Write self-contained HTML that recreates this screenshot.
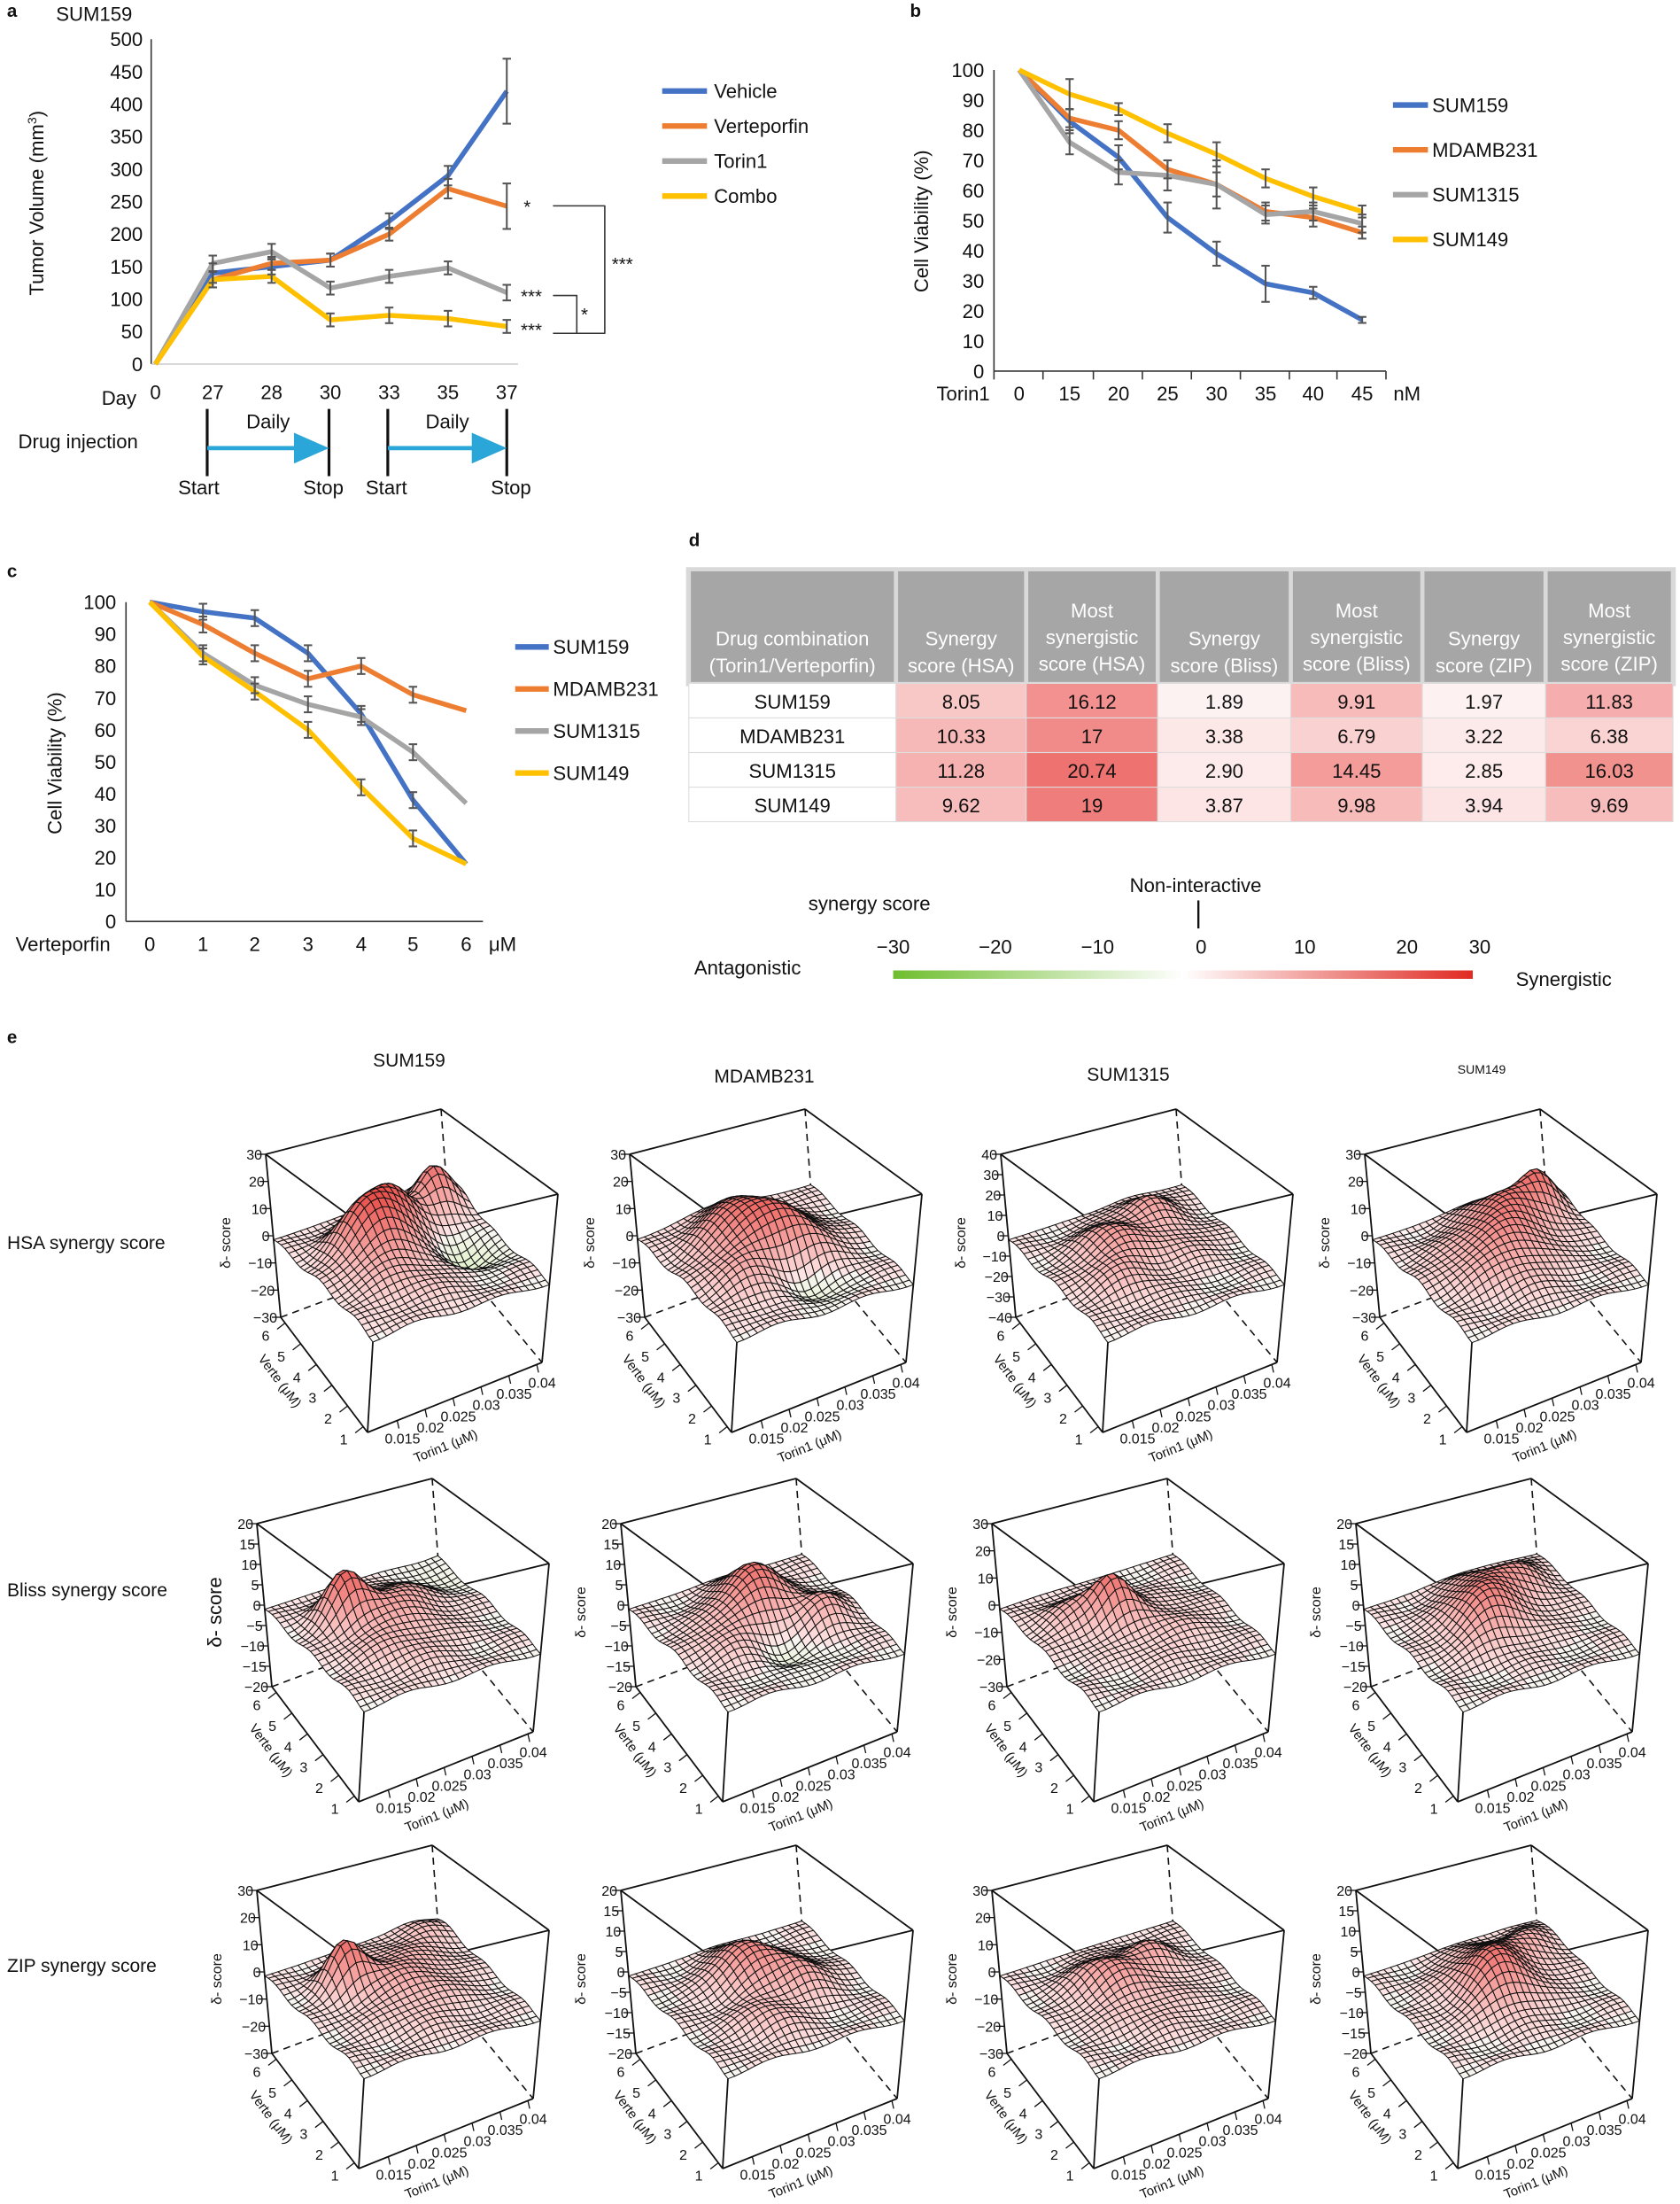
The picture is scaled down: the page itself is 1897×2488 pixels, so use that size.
<!DOCTYPE html>
<html><head><meta charset="utf-8">
<style>
html,body{margin:0;padding:0;background:#fff}
svg{display:block}
text{font-family:"Liberation Sans",sans-serif;fill:#111}
</style></head>
<body>
<svg id="s" xmlns="http://www.w3.org/2000/svg" width="1897" height="2488" viewBox="0 0 1897 2488">
<rect width="1897" height="2488" fill="#fff"/>
<g id="top" transform="scale(1.5808)"></g>
<g id="e3d"></g>
</svg>
<script>
var T=document.getElementById('top'),E=document.getElementById('e3d');
var h='';
function tx(x,y,s,fs,anchor,extra){return '<text x="'+x+'" y="'+y+'" font-size="'+(fs||14)+'"'+(anchor?' text-anchor="'+anchor+'"':'')+(extra||'')+'>'+s+'</text>';}
function line(x1,y1,x2,y2,c,w,extra){return '<line x1="'+x1+'" y1="'+y1+'" x2="'+x2+'" y2="'+y2+'" stroke="'+c+'" stroke-width="'+w+'"'+(extra||'')+'/>';}
function poly(pts,c,w){return '<polyline fill="none" stroke="'+c+'" stroke-width="'+w+'" stroke-linejoin="round" points="'+pts.map(function(p){return p[0]+','+p[1]}).join(' ')+'"/>';}
function eb(x,y,d){return line(x,y-d,x,y+d,'#555',1.3)+line(x-3,y-d,x+3,y-d,'#555',1.3)+line(x-3,y+d,x+3,y+d,'#555',1.3);}
var COL=['#4472c4','#ed7d31','#a5a5a5','#ffc000'];
// ---- panel a
h+=tx(5,12,'a',13,null,' font-weight="bold"')+tx(40,15,'SUM159',14);
h+=line(108,28,108,260,'#333',1)+line(108,260,370,260,'#ccc',1);
for(var i=0;i<=10;i++){var y=260-i*23.2;h+=tx(102,y+5,i*50,14,'end');}
var xa=[111,152,194,236,278,320,362],dl=[0,27,28,30,33,35,37];
h+=tx(85,289,'Day',14,'middle');
xa.forEach(function(x,i){h+=tx(x,285,dl[i],14,'middle')});
h+='<text transform="translate(31,145) rotate(-90)" font-size="14" text-anchor="middle">Tumor Volume (mm<tspan font-size="9" dy="-5">3</tspan><tspan dy="5">)</tspan></text>';
var da=[[0,140,150,160,220,290,420],[0,130,155,160,200,270,243],[0,155,173,117,135,148,110],[0,130,135,68,75,70,58]];
var ea=[[0,15,12,10,12,15,50],[0,12,10,10,10,15,35],[0,12,12,10,10,10,12],[0,12,10,10,12,12,10]];
da.forEach(function(s,k){h+=poly(s.map(function(v,i){return [xa[i],260-v*0.464]}),COL[k],3.5);});
da.forEach(function(s,k){s.forEach(function(v,i){if(i)h+=eb(xa[i],260-v*0.464,ea[k][i]*0.464)})});
['Vehicle','Verteporfin','Torin1','Combo'].forEach(function(n,k){var y=65+k*25;h+=line(473,y,505,y,COL[k],4)+tx(510,y+5,n,14);});
h+=tx(374,152,'*',13)+poly([[395,147],[432,147],[432,238],[412,238]],'#333',1);
h+=tx(437,193,'***',13)+tx(372,216,'***',13)+tx(372,240,'***',13);
h+=poly([[395,211],[412,211],[412,238],[395,238]],'#333',1)+tx(415,229,'*',13);
h+=tx(13,320,'Drug injection',14);
function inj(x1,x2){var s='';s+=line(x1,292,x1,340,'#111',2)+line(x2,292,x2,340,'#111',2);
 s+=line(x1,320,x2-24,320,'#2aa6d8',3)+'<polygon points="'+(x2-25)+',309 '+x2+',320 '+(x2-25)+',331" fill="#2aa6d8"/>';
 s+=tx((x1+x2)/2,306,'Daily',14,'middle');return s;}
h+=inj(148,235)+inj(277,362);
h+=tx(142,353,'Start',14,'middle')+tx(231,353,'Stop',14,'middle')+tx(276,353,'Start',14,'middle')+tx(365,353,'Stop',14,'middle');
// ---- panel b
h+=tx(650,12,'b',13,null,' font-weight="bold"');
h+=line(710,50,710,265,'#333',1)+line(710,265,990,265,'#333',1);
for(var i=0;i<=10;i++){var y=265-i*21.5;h+=tx(703,y+5,i*10,14,'end');}
var xb=[728,764,799,834,869,904,938,973],nb=[0,15,20,25,30,35,40,45];
xb.forEach(function(x,i){h+=tx(x,286,nb[i],14,'middle');h+=line(x+17,265,x+17,271,'#333',1)});
h+=line(710,265,710,271,'#333',1)+tx(688,286,'Torin1',14,'middle')+tx(1005,286,'nM',14,'middle');
h+='<text transform="translate(663,158) rotate(-90)" font-size="14" text-anchor="middle">Cell Viability (%)</text>';
var db=[[100,83,71,51,39,29,26,17],[100,84,80,67,62,53,51,46],[100,76,66,65,62,52,53,49],[100,92,87,79,72,64,58,53]];
var eB=[[0,4,4,5,4,6,2,1],[0,3,3,3,4,3,3,2],[0,4,4,5,8,3,3,3],[0,5,2,3,4,3,3,2]];
db.forEach(function(s,k){h+=poly(s.map(function(v,i){return [xb[i],265-v*2.15]}),COL[k],3.5);});
db.forEach(function(s,k){s.forEach(function(v,i){if(i)h+=eb(xb[i],265-v*2.15,eB[k][i]*2.15)})});
['SUM159','MDAMB231','SUM1315','SUM149'].forEach(function(n,k){var y=75+k*32;h+=line(995,y,1020,y,COL[k],4)+tx(1023,y+5,n,14);});
// ---- panel c
h+=tx(5,412,'c',13,null,' font-weight="bold"');
h+=line(90,430,90,658,'#333',1)+line(90,658,345,658,'#333',1);
for(var i=0;i<=10;i++){var y=658-i*22.8;h+=tx(83,y+5,i*10,14,'end');}
var xc=[107,145,182,220,258,295,333];
xc.forEach(function(x,i){h+=tx(x,679,i,14,'middle');});
h+=tx(45,679,'Verteporfin',14,'middle')+tx(359,679,'μM',14,'middle');
h+='<text transform="translate(44,545) rotate(-90)" font-size="14" text-anchor="middle">Cell Viability (%)</text>';
var dc=[[100,97,95,84,65,38,18],[100,93,84,76,80,71,66],[100,84,74,68,64,53,37],[100,83,72,60,42,26,18]];
dc.forEach(function(s,k){h+=poly(s.map(function(v,i){return [xc[i],658-v*2.28]}),COL[k],3.5);});
dc.forEach(function(s,k){s.forEach(function(v,i){if(i&&i<6)h+=eb(xc[i],658-v*2.28,2.5*2.28)})});
['SUM159','MDAMB231','SUM1315','SUM149'].forEach(function(n,k){var y=462+k*30;h+=line(368,y,392,y,COL[k],4)+tx(395,y+5,n,14);});
// ---- panel d
h+=tx(492,390,'d',13,null,' font-weight="bold"');
var cx=[492,640,733,827,922,1016,1104,1195];
h+='<rect x="490" y="405" width="707" height="85" fill="#d9d9d9"/>';
var hd=[['Drug combination','(Torin1/Verteporfin)'],['Synergy','score (HSA)'],['Most','synergistic','score (HSA)'],['Synergy','score (Bliss)'],['Most','synergistic','score (Bliss)'],['Synergy','score (ZIP)'],['Most','synergistic','score (ZIP)']];
for(var c=0;c<7;c++){h+='<rect x="'+(cx[c]+1.5)+'" y="408" width="'+(cx[c+1]-cx[c]-3)+'" height="79" fill="#a6a6a6"/>';
 var L=hd[c],y0=L.length==2?461:441;L.forEach(function(t,j){h+='<text x="'+(cx[c]+cx[c+1])/2+'" y="'+(y0+j*19)+'" font-size="14" text-anchor="middle" style="fill:#fff">'+t+'</text>';});}
var rows=[['SUM159','8.05','16.12','1.89','9.91','1.97','11.83'],['MDAMB231','10.33','17','3.38','6.79','3.22','6.38'],['SUM1315','11.28','20.74','2.90','14.45','2.85','16.03'],['SUM149','9.62','19','3.87','9.98','3.94','9.69']];
function red(v){var t=Math.min(1,v/28);return 'rgb('+Math.round(255-(255-232)*t)+','+Math.round(255-(255-64)*t)+','+Math.round(255-(255-60)*t)+')';}
rows.forEach(function(r,i){var y=488+i*24.7;for(var c=0;c<7;c++){var f=c?red(parseFloat(r[c])):'#fff';
 h+='<rect x="'+cx[c]+'" y="'+y+'" width="'+(cx[c+1]-cx[c])+'" height="24.7" fill="'+f+'" stroke="#ddd" stroke-width="0.7"/>';
 h+=tx((cx[c]+cx[c+1])/2,y+18,r[c],14,'middle');}});
h+='<defs><linearGradient id="cb"><stop offset="0" stop-color="#6fbe2e"/><stop offset="0.5" stop-color="#fff"/><stop offset="1" stop-color="#e02a22"/></linearGradient></defs>';
h+='<rect x="638" y="693" width="414" height="6" fill="url(#cb)"/>';
[['−30',638],['−20',711],['−10',784],['0',858],['10',932],['20',1005],['30',1057]].forEach(function(a){h+=tx(a[1],681,a[0],14,'middle')});
h+=tx(621,650,'synergy score',14,'middle')+tx(854,637,'Non-interactive',14,'middle')+line(856,643,856,663,'#111',1.5);
h+=tx(534,696,'Antagonistic',14,'middle')+tx(1117,704,'Synergistic',14,'middle');
h+=tx(5,745,'e',13,null,' font-weight="bold"');
T.innerHTML=h;

// ---- panel e
var g='';
g+=tx(462,1204,'SUM159',21,'middle')+tx(863,1222,'MDAMB231',21,'middle')+tx(1274,1220,'SUM1315',21,'middle')+tx(1673,1212,'SUM149',14,'middle');
g+=tx(8,1410,'HSA synergy score',21)+tx(8,1802,'Bliss synergy score',21)+tx(8,2226,'ZIP synergy score',21);
var A=[300,1303],B=[498,1252],C=[630,1348],D=[428,1397],A2=[317,1487],B2=[510,1415],C2=[612,1538],D2=[415,1617];
function bil(P,Q,R,S,u,v){return [P[0]*(1-u)*(1-v)+S[0]*u*(1-v)+Q[0]*(1-u)*v+R[0]*u*v, P[1]*(1-u)*(1-v)+S[1]*u*(1-v)+Q[1]*(1-u)*v+R[1]*u*v];}
var zt=[[30,10],[30,10],[40,10],[30,10],[20,5],[20,5],[30,10],[20,5],[30,10],[20,5],[30,10],[20,5]];
var bumps=[
 [[.35,.35,.55,.13],[.25,.55,.5,.11],[.15,.85,.55,.09],[.55,.8,-.25,.1],[.6,.35,.2,.2]],
 [[.3,.45,.55,.18],[.5,.65,.3,.13],[.75,.55,-.2,.1],[.6,.25,.2,.15]],
 [[.35,.4,.3,.13],[.2,.7,.3,.11],[.6,.3,.2,.15],[.5,.7,.15,.12]],
 [[.3,.6,.5,.16],[.2,.85,.45,.09],[.6,.45,.25,.15],[.45,.25,.15,.15]],
 [[.3,.3,.55,.1],[.35,.6,.25,.13],[.15,.9,-.1,.1],[.6,.4,.2,.18]],
 [[.3,.55,.55,.13],[.55,.8,.3,.1],[.7,.5,-.15,.1],[.5,.3,.2,.15]],
 [[.35,.45,.45,.09],[.3,.25,.2,.13],[.55,.6,.15,.18]],
 [[.3,.55,.4,.16],[.5,.4,.3,.13],[.2,.8,.2,.1]],
 [[.3,.3,.5,.09],[.35,.6,.2,.18],[.1,.85,.15,.1],[.6,.5,.15,.18]],
 [[.3,.5,.45,.13],[.5,.7,.3,.11],[.7,.4,.2,.13]],
 [[.35,.4,.3,.13],[.3,.7,.25,.11],[.6,.5,.15,.18]],
 [[.35,.55,.4,.16],[.55,.45,.3,.13],[.2,.85,.2,.1]]];
function zf(b,u,v){var z=-0.05;b.forEach(function(q){var du=u-q[0],dv=v-q[1];z+=q[2]*Math.exp(-(du*du+dv*dv)/(2*q[3]*q[3]))});
 z+=0.03*Math.sin(u*17)*Math.cos(v*13);return z;}
function col(z){if(z>=-0.05){var t=Math.min(1,(z+0.05)/0.75);t=0.1+0.85*t;return 'rgb('+Math.round(255-(255-232)*t)+','+Math.round(250-(250-60)*t)+','+Math.round(250-(250-55)*t)+')';}
 var t=Math.min(1,(-z-0.05)/0.25);return 'rgb('+Math.round(250-25*t)+','+Math.round(245-3*t)+','+Math.round(243-40*t)+')';}
function Pn(u,v,z){var a=bil(A,B,C,D,u,v),b=bil(A2,B2,C2,D2,u,v);var t=(1-z)/2;return [a[0]+(b[0]-a[0])*t,a[1]+(b[1]-a[1])*t];}
function P(ox,oy,u,v,z){var p=Pn(u,v,z);return [(p[0]+ox).toFixed(1),(p[1]+oy).toFixed(1)];}
for(var r=0;r<3;r++)for(var c=0;c<4;c++){
 var k=r*4+c,ox=[0,411,830,1241][c]-(r?10:0),oy=[0,417,831][r];
 var s='';
 s+=line(B[0]+ox,B[1]+oy,B2[0]+ox,B2[1]+oy,'#111',1.6,' stroke-dasharray="8,6"');
 s+=line(A2[0]+ox,A2[1]+oy,B2[0]+ox,B2[1]+oy,'#111',1.6,' stroke-dasharray="8,6"');
 s+=line(B2[0]+ox,B2[1]+oy,C2[0]+ox,C2[1]+oy,'#111',1.6,' stroke-dasharray="8,6"');
 [[A,B],[B,C],[A,D],[D,C],[A,A2],[C,C2]].forEach(function(e){s+=line(e[0][0]+ox,e[0][1]+oy,e[1][0]+ox,e[1][1]+oy,'#111',1.8)});
 var N=26,cells=[];
 for(var i=0;i<N;i++)for(var j=0;j<N;j++)cells.push([i,j]);
 cells.sort(function(a,b){return (b[1]-b[0])-(a[1]-a[0])});
 cells.forEach(function(q){var u0=q[0]/N,u1=(q[0]+1)/N,v0=q[1]/N,v1=(q[1]+1)/N;
  var z00=zf(bumps[k],u0,v0),z10=zf(bumps[k],u1,v0),z11=zf(bumps[k],u1,v1),z01=zf(bumps[k],u0,v1);
  var pts=[P(ox,oy,u0,v0,z00),P(ox,oy,u1,v0,z10),P(ox,oy,u1,v1,z11),P(ox,oy,u0,v1,z01)];
  s+='<polygon points="'+pts.join(' ')+'" fill="'+col((z00+z10+z11+z01)/4)+'" stroke="#111" stroke-width="1"/>';});
 var fc=Pn(1,0,zf(bumps[k],1,0));
 [[A2,D2],[D2,C2]].forEach(function(e){s+=line(e[0][0]+ox,e[0][1]+oy,e[1][0]+ox,e[1][1]+oy,'#111',1.8)});
 s+=line(fc[0]+ox,fc[1]+oy,D2[0]+ox,D2[1]+oy,'#111',1.8);
 var zm=zt[k][0],st=zt[k][1];
 for(var zv=-zm;zv<=zm;zv+=st){var t=(zm-zv)/(2*zm);var x=A[0]+(A2[0]-A[0])*t+ox,y=A[1]+(A2[1]-A[1])*t+oy;
  s+=line(x-10,y,x,y,'#111',1.3)+tx(x-4,y+6,zv<0?'−'+(-zv):zv,16,'end');}
 s+='<text transform="translate('+(A[0]+ox-40)+','+(A[1]+oy+100)+') rotate(-90)" font-size="'+(k==4?22:16)+'" text-anchor="middle">δ- score</text>';
 for(var m=0;m<6;m++){var f=0.05+m*0.18;var x=A2[0]+(D2[0]-A2[0])*f+ox,y=A2[1]+(D2[1]-A2[1])*f+oy;
  s+=line(x,y,x-9,y+7,'#111',1.3)+tx(x-22,y+20,6-m,16,'middle');}
 s+='<text transform="translate('+(A2[0]+ox-5)+','+(A2[1]+oy+75)+') rotate(53)" font-size="15" text-anchor="middle">Verte (μM)</text>';
 var tl=['0.015','0.02','0.025','0.03','0.035','0.04'];
 for(var m=0;m<6;m++){var f=0.17+m*0.16;var x=D2[0]+(C2[0]-D2[0])*f+ox,y=D2[1]+(C2[1]-D2[1])*f+oy;
  s+=line(x,y,x+2,y+9,'#111',1.3)+tx(x+6,y+26,tl[m],16,'middle');}
 s+='<text transform="translate('+(D2[0]+ox+90)+','+(D2[1]+oy+20)+') rotate(-22)" font-size="15" text-anchor="middle">Torin1 (μM)</text>';
 g+=s;}
E.innerHTML=g;
</script>
</body></html>
